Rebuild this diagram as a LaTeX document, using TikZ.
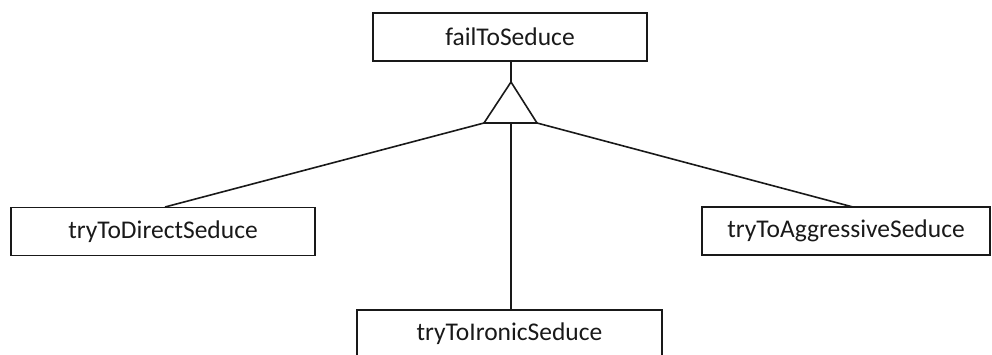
\documentclass[tikz,border=0pt]{standalone}
\usepackage{fontspec}
\setmainfont{Carlito}
\begin{document}
\begin{tikzpicture}[x=1pt,y=-1pt,
  goalbox/.style={draw=black!90, line width=1.6pt, minimum height=48pt, inner sep=0pt, font=\fontsize{25.5}{28}\selectfont, text=black!90},
  link/.style={draw=black!90, line width=1.6pt}]
\useasboundingbox (0,0) rectangle (992,354);
\node[goalbox, minimum width=274pt] (top) at (510,37) {failToSeduce};
\node[goalbox, minimum width=304pt] (left) at (163,231.5) {tryToDirectSeduce};
\node[goalbox, minimum width=288pt] (right) at (846,231) {tryToAggressiveSeduce};
\node[goalbox, minimum width=305pt] (bottom) at (509.5,334) {tryToIronicSeduce};
\coordinate (tA) at (511,82);
\coordinate (tL) at (484,123);
\coordinate (tR) at (537,123);
\coordinate (tM) at (511,123);
\coordinate (lEnd) at (165,207);
\coordinate (rEnd) at (853,207);
\draw[link] (top.south -| tA) -- (tA);
\draw[link, line join=miter] (tA) -- (tL) -- (tR) -- cycle;
\draw[link] (tL) -- (lEnd);
\draw[link] (tR) -- (rEnd);
\draw[link] (tM) -- (tM |- bottom.north);
\end{tikzpicture}
\end{document}
